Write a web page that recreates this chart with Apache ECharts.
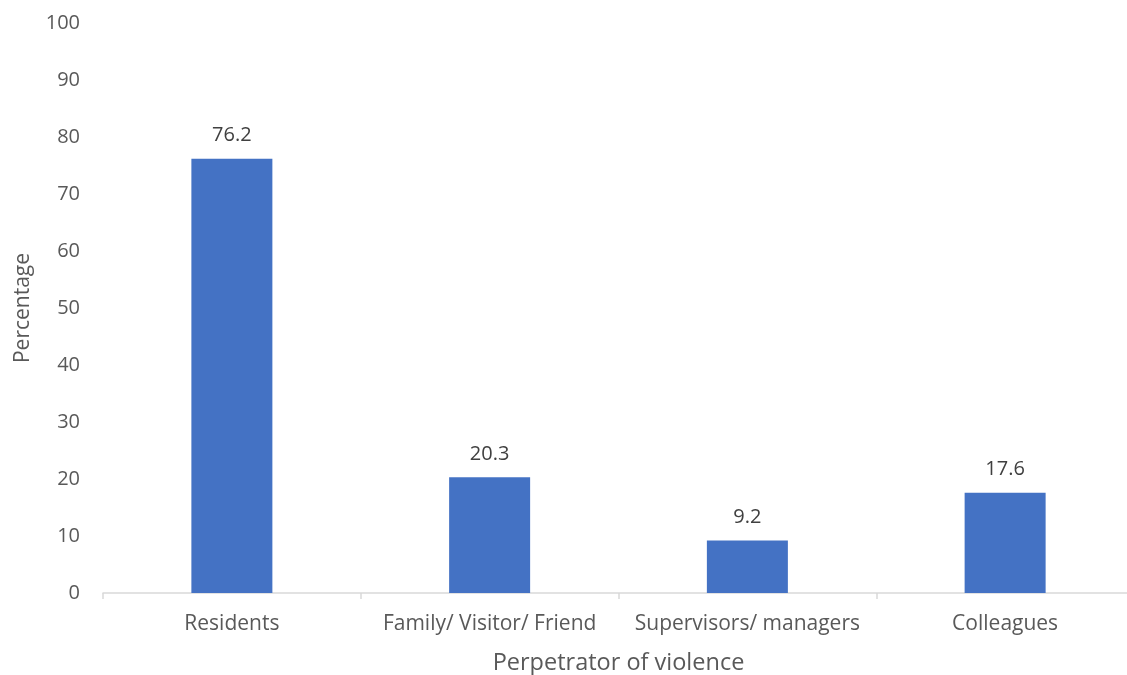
<!DOCTYPE html>
<html>
<head>
<meta charset="utf-8">
<script src="https://cdn.jsdelivr.net/npm/echarts@6/dist/echarts.min.js"></script>
<style>
  html, body { margin: 0; padding: 0; background: #fff; }
  #chart { width: 1127px; height: 675px; }
</style>
</head>
<body>
<div id="chart"></div>
<script>
// Who committed the violence, as a share of respondents (%)
const categories = ['Residents', 'Family/ Visitor/ Friend', 'Supervisors/ managers', 'Colleagues'];
const percentages = [76.2, 20.3, 9.2, 17.6];
const yTicks = { min: 0, max: 100, interval: 10 };

const FONT = '"Open Sans", "Noto Sans", sans-serif';
const TEXT_GREY = '#595959';

const chart = echarts.init(document.getElementById('chart'), null, { renderer: 'canvas' });
chart.setOption({
  animation: false,
  // plot runs slightly past the right edge of the canvas
  grid: { left: 103, right: -7, top: 23, bottom: 82, containLabel: false, outerBoundsMode: 'none' },
  xAxis: {
    type: 'category',
    data: categories,
    name: 'Perpetrator of violence',
    nameLocation: 'middle',
    nameGap: 58,
    nameTextStyle: { color: TEXT_GREY, fontSize: 23.5, fontFamily: FONT },
    axisLine: { lineStyle: { color: '#D9D9D9', width: 1.5 } },
    axisTick: { show: true, length: 6, lineStyle: { color: '#D9D9D9', width: 1.5 } },
    axisLabel: { color: TEXT_GREY, fontSize: 21, fontFamily: FONT, margin: 21, interval: 0 }
  },
  yAxis: {
    type: 'value',
    min: yTicks.min,
    max: yTicks.max,
    interval: yTicks.interval,
    name: 'Percentage',
    nameLocation: 'middle',
    nameGap: 69,
    nameTextStyle: { color: TEXT_GREY, fontSize: 21, fontFamily: FONT },
    axisLine: { show: false },
    axisTick: { show: false },
    splitLine: { show: false },
    axisLabel: { color: TEXT_GREY, fontSize: 20, fontFamily: FONT, margin: 23 }
  },
  series: [{
    type: 'bar',
    data: percentages,
    barWidth: 81,
    itemStyle: { color: '#4472C4' },
    label: {
      show: true,
      position: 'top',
      distance: 13,
      color: '#404040',
      fontSize: 20,
      fontFamily: FONT,
      formatter: p => p.value.toFixed(1)
    }
  }]
});
</script>
</body>
</html>
